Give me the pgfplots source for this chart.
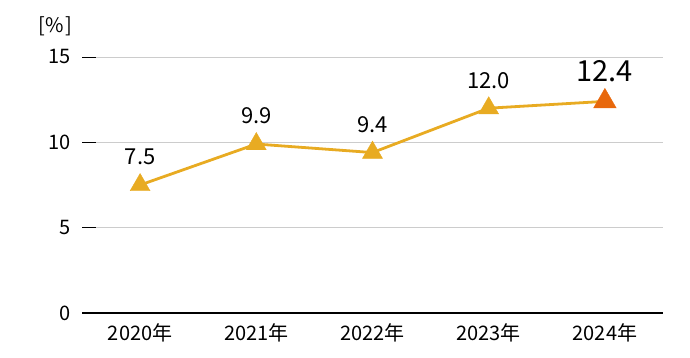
\documentclass[border=0pt]{standalone}
\usepackage{pgfplots}
\pgfplotsset{compat=1.18}
\usepackage{fontspec}
\setmainfont{Noto Sans CJK JP}
\definecolor{lineY}{HTML}{E8AB22}
\definecolor{markO}{HTML}{E8680C}
\definecolor{gridG}{HTML}{CCCCCC}
\begin{document}
\begin{tikzpicture}[x=1pt,y=1pt]
\useasboundingbox (0,0) rectangle (690,358);
\node[font=\fontsize{20}{20}\selectfont, inner sep=0] at (55,332) {[\kern1pt\%\kern1pt]};
\begin{axis}[
  at={(82pt,45pt)}, anchor=south west,
  scale only axis, width=581pt, height=256pt,
  xmin=-0.5, xmax=4.5, ymin=0, ymax=15,
  axis x line=bottom, axis y line=left,
  x axis line style={black, line width=1.6pt, -},
  y axis line style={draw=none},
  xtick={0,1,2,3,4},
  xticklabels={2020年,2021年,2022年,2023年,2024年},
  ytick={0,5,10,15},
  x tick style={draw=none},
  y tick style={black, line width=0.9pt},
  tick align=inside, major tick length=14pt,
  ymajorgrids, grid style={gridG, line width=0.9pt},
  /pgf/number format/assume math mode=true,
  tick label style={font=\fontsize{20}{20}\selectfont},
  yticklabel style={inner sep=0pt, anchor=east, xshift=-11pt},
  xticklabel style={inner sep=0pt, anchor=center, yshift=-20pt},
  clip=false,
]
\addplot[lineY, line width=2.8pt, no marks] coordinates {(0,7.5) (1,9.9) (2,9.4) (3,12.0) (4,12.4)};
\addplot[only marks, mark=triangle*, mark size=11.5pt, color=lineY, mark options={fill=lineY, draw=none},
  nodes near coords, nodes near coords style={font=\fontsize{22}{22}\selectfont, text=black, anchor=center, yshift=28pt, /pgf/number format/fixed, /pgf/number format/fixed zerofill, /pgf/number format/precision=1}]
  coordinates {(0,7.5) (1,9.9) (2,9.4) (3,12.0)};
\addplot[only marks, mark=triangle*, mark size=13pt, color=markO, mark options={fill=markO, draw=none},
  nodes near coords, nodes near coords style={font=\fontsize{29}{29}\selectfont, text=black, anchor=center, yshift=30pt, /pgf/number format/fixed, /pgf/number format/fixed zerofill, /pgf/number format/precision=1}]
  coordinates {(4,12.4)};
\end{axis}
\end{tikzpicture}
\end{document}
